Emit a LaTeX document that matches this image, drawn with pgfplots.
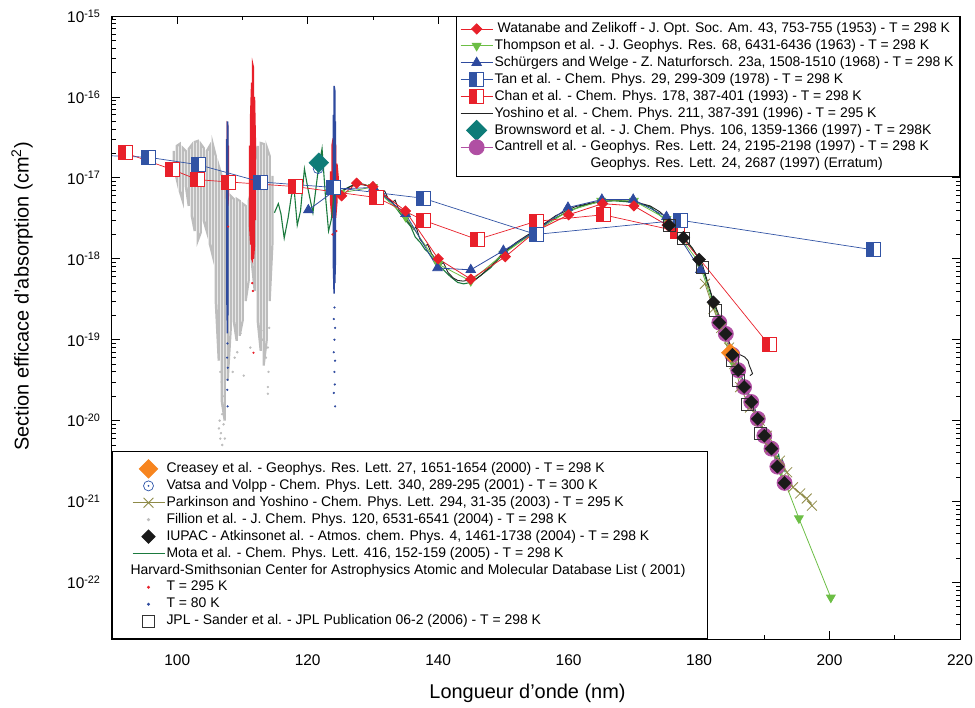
\documentclass[border=0pt]{standalone}
\usepackage{fontspec}
\setmainfont{Liberation Sans}
\usepackage{pgfplots}
\pgfplotsset{compat=1.18}

\definecolor{wzred}{HTML}{E8202A}
\definecolor{thgreen}{HTML}{6CBE45}
\definecolor{swblue}{HTML}{2E4A9E}
\definecolor{tanblue}{HTML}{3153A4}
\definecolor{chanred}{HTML}{E8202A}
\definecolor{yoblack}{HTML}{222222}
\definecolor{brteal}{HTML}{0E7C78}
\definecolor{canmag}{HTML}{B04FA3}
\definecolor{crorange}{HTML}{F7851F}
\definecolor{vablue}{HTML}{2C54A8}
\definecolor{paolive}{HTML}{8E8A47}
\definecolor{figray}{HTML}{BDBDBD}
\definecolor{iublack}{HTML}{1A1A1A}
\definecolor{mogreen}{HTML}{1B7A3E}
\definecolor{hvred}{HTML}{E8202A}
\definecolor{hvblue}{HTML}{2E4A9E}
\definecolor{jplblack}{HTML}{333333}

\pgfdeclareplotmark{halfsqB}{%
  \pgfpathrectangle{\pgfqpoint{-\pgfplotmarksize}{-\pgfplotmarksize}}{\pgfqpoint{2\pgfplotmarksize}{2\pgfplotmarksize}}%
  \pgfsetfillcolor{white}\pgfusepathqfillstroke
  \pgfpathrectangle{\pgfqpoint{-\pgfplotmarksize}{-\pgfplotmarksize}}{\pgfqpoint{\pgfplotmarksize}{2\pgfplotmarksize}}%
  \pgfsetfillcolor{tanblue}\pgfusepathqfillstroke}
\pgfdeclareplotmark{halfsqR}{%
  \pgfpathrectangle{\pgfqpoint{-\pgfplotmarksize}{-\pgfplotmarksize}}{\pgfqpoint{2\pgfplotmarksize}{2\pgfplotmarksize}}%
  \pgfsetfillcolor{white}\pgfusepathqfillstroke
  \pgfpathrectangle{\pgfqpoint{-\pgfplotmarksize}{-\pgfplotmarksize}}{\pgfqpoint{\pgfplotmarksize}{2\pgfplotmarksize}}%
  \pgfsetfillcolor{chanred}\pgfusepathqfillstroke}
\pgfdeclareplotmark{odot}{%
  \pgfpathcircle{\pgfpointorigin}{\pgfplotmarksize}\pgfusepathqstroke
  \pgfpathcircle{\pgfpointorigin}{0.22\pgfplotmarksize}\pgfusepathqfill}

\tikzset{
  wz/.style={color=wzred, line width=0.8bp, mark=square*, mark size=3.6bp, mark options={rotate=45}},
  th/.style={color=thgreen, line width=0.8bp, mark=triangle*, mark size=5bp, mark options={rotate=180}},
  sw/.style={color=swblue, line width=0.8bp, mark=triangle*, mark size=5.5bp},
  tan/.style={color=tanblue, line width=0.7bp, mark=halfsqB, mark size=7bp},
  chan/.style={color=chanred, line width=0.7bp, mark=halfsqR, mark size=7bp},
  yo/.style={color=yoblack, line width=0.9bp},
  br/.style={color=brteal, mark=square*, mark size=7bp, mark options={rotate=45}},
  can/.style={color=canmag, line width=0.8bp, mark=*, mark size=7.5bp},
  cr/.style={color=crorange, mark=square*, mark size=6.4bp, mark options={rotate=45}},
  va/.style={color=vablue, mark=odot, mark size=5bp, mark options={fill=vablue, line width=0.7bp}},
  pa/.style={color=paolive, line width=0.8bp, mark=x, mark size=7bp},
  iu/.style={color=iublack, mark=square*, mark size=4.6bp, mark options={rotate=45}},
  mo/.style={color=mogreen, line width=1.1bp},
  jpl/.style={color=jplblack, mark=square, mark size=6bp, mark options={line width=0.9bp}},
}

\begin{document}
\begin{tikzpicture}
\begin{axis}[
  scale only axis, width=848bp, height=623bp,
  xmin=90, xmax=220, ymode=log, ymin=2e-23, ymax=1e-15,
  legend image code/.code={%
      \begin{pgfinterruptboundingbox}\draw[mark repeat=2,mark phase=2,#1] plot coordinates {(0bp,0bp) (16bp,0bp) (32bp,0bp)};\end{pgfinterruptboundingbox}%
      \path[draw=none, fill=none] (0bp,-4bp) rectangle (32bp,4bp);},
  legend cell align=left,
  xtick={100,120,140,160,180,200,220},
  xticklabels={100,120,140,160,180,200,220},
  minor xtick={90,110,130,150,170,190,210},
  ytick={1e-22,1e-21,1e-20,1e-19,1e-18,1e-17,1e-16,1e-15},
  yticklabels={10\textsuperscript{-22},10\textsuperscript{-21},10\textsuperscript{-20},10\textsuperscript{-19},10\textsuperscript{-18},10\textsuperscript{-17},10\textsuperscript{-16},10\textsuperscript{-15}},
  minor ytick={2e-23,3e-23,4e-23,5e-23,6e-23,7e-23,8e-23,9e-23,2e-22,3e-22,4e-22,5e-22,6e-22,7e-22,8e-22,9e-22,2e-21,3e-21,4e-21,5e-21,6e-21,7e-21,8e-21,9e-21,2e-20,3e-20,4e-20,5e-20,6e-20,7e-20,8e-20,9e-20,2e-19,3e-19,4e-19,5e-19,6e-19,7e-19,8e-19,9e-19,2e-18,3e-18,4e-18,5e-18,6e-18,7e-18,8e-18,9e-18,2e-17,3e-17,4e-17,5e-17,6e-17,7e-17,8e-17,9e-17,2e-16,3e-16,4e-16,5e-16,6e-16,7e-16,8e-16,9e-16},
  tick align=inside,
  major tick length=8bp, minor tick length=4bp,
  every tick/.style={black, line width=0.8bp},
  axis line style={line width=1bp},
  ticklabel style={font=\fontsize{15.5}{18}\selectfont},
  xticklabel style={yshift=-12bp},
  yticklabel style={xshift=-8bp},
  xlabel={Longueur d'onde (nm)},
  ylabel={Section efficace d'absorption (cm\textsuperscript{2})},
  label style={font=\fontsize{20}{22}\selectfont},
  xlabel style={at={(axis description cs:0.49,-0.087)}, anchor=center},
  ylabel style={at={(axis description cs:-0.106,0.55)}, anchor=center},
  legend style={at={(1,1)}, anchor=north east, draw=black, line width=1bp,
    font=\fontsize{14}{16}\selectfont, inner xsep=4bp, inner ysep=4bp, row sep=0bp,
    nodes={inner ysep=1.8bp, inner xsep=2bp, text height=10.3bp, text depth=3bp}},
]
\coordinate (SW) at (rel axis cs:0,0);

\addlegendimage{wz}\addlegendentry{\hspace{3bp}Watanabe and Zelikoff - J. Opt. Soc. Am. 43, 753-755 (1953) - T = 298 K}
\addlegendimage{th}\addlegendentry{Thompson et al. - J. Geophys. Res. 68, 6431-6436 (1963) - T = 298 K}
\addlegendimage{sw}\addlegendentry{Schürgers and Welge - Z. Naturforsch. 23a, 1508-1510 (1968) - T = 298 K}
\addlegendimage{tan}\addlegendentry{Tan et al. - Chem. Phys. 29, 299-309 (1978) - T = 298 K}
\addlegendimage{chan}\addlegendentry{Chan et al. - Chem. Phys. 178, 387-401 (1993) - T = 298 K}
\addlegendimage{yo, no marks}\addlegendentry{Yoshino et al. - Chem. Phys. 211, 387-391 (1996) - T = 295 K}
\addlegendimage{br, only marks}\addlegendentry{Brownsword et al. - J. Chem. Phys. 106, 1359-1366 (1997) - T = 298K}
\addlegendimage{can}\addlegendentry{Cantrell et al. - Geophys. Res. Lett. 24, 2195-2198 (1997) - T = 298 K}
\addlegendimage{empty legend}\addlegendentry{\hphantom{Cantrell et al. - }Geophys. Res. Lett. 24, 2687 (1997) (Erratum)}

\addplot[forget plot, color=figray, line width=2.2bp] coordinates {
(99.46,2.15e-17)(99.46,1.41e-17)(99.92,9.7e-18)(99.92,2.48e-17)(100.38,2.63e-17)(100.38,6.9e-18)
(100.84,5.2e-18)(100.84,2.34e-17)(101.30,2.15e-17)(101.30,7.96e-18)(101.76,4.5e-18)(101.76,2.28e-17)
(102.22,2.55e-17)(102.22,3.4e-18)(102.68,2.2e-18)(102.68,2.78e-17)(103.14,2.86e-17)(103.14,1.67e-18)
(103.60,2.1e-18)(103.60,2.63e-17)(104.06,2.34e-17)(104.06,2.95e-18)(104.52,2.2e-18)(104.52,2.15e-17)
(104.98,2.48e-17)(104.98,1.53e-18)(105.44,1.09e-18)(105.44,2.63e-17)(105.90,1.87e-17)(105.90,3.0e-19)
(106.36,5.5e-20)(106.36,1.41e-17)(106.81,1.06e-17)(106.81,1.77e-20)(107.27,1.0e-20)(107.27,7.96e-18)
(107.73,6.9e-18)(107.73,3.1e-20)(108.19,1.29e-19)(108.19,6.0e-18)(108.65,5.5e-18)(108.65,1.72e-19)
(109.11,9.7e-20)(109.11,5.5e-18)(109.57,5.2e-18)(109.57,1.12e-19)(110.03,1.72e-19)(110.03,4.8e-18)
(110.49,4.5e-18)(110.49,3.0e-19)(110.95,5.3e-19)(110.95,5.2e-18)(111.41,6.9e-18)(111.41,9.4e-19)
(111.87,4.0e-19)(111.87,1.62e-17)(112.33,2.48e-17)(112.33,1.72e-19)(112.79,7.3e-20)(112.79,2.70e-17)
(113.25,2.63e-17)(113.25,4.8e-20)(113.71,9.7e-20)(113.71,2.41e-17)(114.17,1.87e-17)(114.17,3.0e-19)
(114.62,1.67e-18)(114.62,1.06e-17)};
\addplot[forget plot, only marks, color=figray, mark=*, mark size=1bp] coordinates {
(106.4,8e-21)(106.5,1e-20)(106.6,6e-21)(106.7,7e-21)(106.9,1.2e-20)(107.1,9e-21)(107.0,1.5e-20)
(107.2,2e-20)(106.8,3e-20)(106.6,4e-20)(109.7,1.2e-19)(110.2,3.6e-20)(113.9,2.6e-20)(113.9,2.15e-20)
(114.0,4e-20)(113.6,6e-20)(113.9,8e-20)(109.2,7e-20)(108.5,4e-20)(108.8,6e-20)(111.2,8e-20)
(113.1,1e-19)(112.9,1.3e-19)(114.1,1.4e-19)(107.3,6e-21)(106.9,5e-21)};

\addplot[forget plot, color=hvred, line width=1.2bp] coordinates {
(107.55,3e-17)(107.55,6e-18)(107.65,3.9e-18)(107.65,4.7e-17)(107.75,4.5e-17)(107.75,4.5e-18)(107.85,6e-18)(107.85,2.5e-17)};
\addplot[forget plot, color=hvred, line width=1.3bp] coordinates {
(111.1,2.5e-17)(111.1,2.5e-18)(111.25,1.5e-18)(111.25,6e-17)(111.4,1.5e-16)(111.4,1.0e-18)(111.55,9.4e-19)(111.55,2.6e-16)
(111.7,2.3e-16)(111.7,1.0e-18)(111.85,1.5e-18)(111.85,1.0e-16)(112.0,2.5e-17)(112.0,3e-18)};
\addplot[forget plot, color=hvred, line width=1.1bp] coordinates {
(123.5,1.2e-17)(123.5,5e-18)(123.7,3.2e-18)(123.7,2.5e-17)(123.9,3.1e-17)(123.9,3.5e-18)(124.1,4e-18)(124.1,3e-17)
(124.3,2.5e-17)(124.3,3.2e-18)(124.5,5e-18)(124.5,1.5e-17)(124.7,1e-17)(124.7,6e-18)};
\addplot[forget plot, only marks, color=hvred, mark=*, mark size=0.9bp] coordinates {
(111.7,6.9e-20)(111.6,4e-19)(111.5,5e-19)(107.8,2.5e-18)(124.4,2.2e-18)(123.8,2e-18)};

\addplot[forget plot, color=hvblue, line width=1.5bp] coordinates {
(107.62,3e-17)(107.62,3e-19)(107.7,1.2e-19)(107.7,5e-17)(107.78,4e-17)(107.78,2e-19)};
\addplot[forget plot, color=hvblue, line width=1.5bp] coordinates {
(123.95,6e-17)(123.95,8e-19)(124.05,3.7e-19)(124.05,1.37e-16)(124.15,1.2e-16)(124.15,5e-19)(124.25,1e-18)(124.25,5e-17)};
\addplot[forget plot, only marks, color=hvblue, mark=*, mark size=0.9bp] coordinates {
(124.1,2.5e-19)(124.0,1.8e-19)(124.2,1.4e-19)(124.1,1.0e-19)(124.0,7e-20)(124.2,5.5e-20)(124.1,4e-20)
(124.15,2.8e-20)(124.0,2.2e-20)(124.2,1.5e-20)
(107.7,9e-20)(107.65,6e-20)(107.75,4.5e-20)(107.7,3.2e-20)(107.68,2.4e-20)(107.72,1.5e-20)};

\addplot[forget plot, mo, no marks] coordinates {
(114.9,3.7e-18)(115.5,4.8e-18)(115.9,3.6e-18)(116.4,1.8e-18)(117.0,3.2e-18)(117.5,6.0e-18)(117.9,7.6e-18)
(118.4,2.6e-18)(118.9,3.9e-18)(119.5,1.29e-17)(120.0,7.6e-18)(120.8,3.7e-18)(121.6,1.23e-17)(122.2,2.3e-17)
(122.7,6.3e-18)(123.2,2.2e-18)(123.6,3.0e-18)(124.1,6.5e-18)(125.2,6.9e-18)(126.2,7.6e-18)(127.0,8.2e-18)
(128.2,8.5e-18)(129.2,8.0e-18)(130.0,7.7e-18)(131.0,6.9e-18)(131.9,6.0e-18)(132.5,5.2e-18)(133.0,5.0e-18)
(133.5,4.3e-18)(134.2,3.6e-18)(135.0,3.0e-18)(135.8,2.5e-18)(136.5,1.85e-18)(137.3,1.58e-18)(138.0,1.3e-18)
(138.4,1.22e-18)(139.2,1.0e-18)(139.9,8.7e-19)(140.8,7.3e-19)(141.9,6.0e-19)(143.0,5.1e-19)(143.9,4.9e-19)
(145.0,5.1e-19)(146.5,6.2e-19)(148.0,7.7e-19)(150.0,1.15e-18)(152.0,1.55e-18)(154.6,2.1e-18)(157.0,2.9e-18)
(159.8,3.8e-18)(162.0,4.5e-18)(164.9,5.1e-18)(167.0,5.2e-18)(169.9,5.0e-18)(172.5,4.4e-18)(175.1,2.9e-18)
(177.0,2.0e-18)(178.5,1.5e-18)(180.0,1.0e-18)(181.0,5.8e-19)(182.0,3.3e-19)(183.0,1.9e-19)(184.0,1.25e-19)
(185.0,7.0e-20)(186.0,4.4e-20)(187.0,2.8e-20)(188.0,1.8e-20)(189.0,1.12e-20)(190.0,7.0e-21)(191.0,4.8e-21)
(191.8,3.3e-21)(192.2,3.8e-21)(192.5,2.7e-21)(192.8,3.2e-21)(193.2,2.3e-21)};

\addplot[forget plot, yo, no marks] coordinates {
(125.5,7.0e-18)(126.5,7.8e-18)(127.5,8.3e-18)(128.5,8.2e-18)(129.5,7.9e-18)(130.5,7.3e-18)(131.3,6.6e-18)
(131.8,6.9e-18)(132.3,5.6e-18)(133.0,5.0e-18)(133.4,5.3e-18)(134.0,4.0e-18)(135.0,3.2e-18)(135.8,2.6e-18)
(136.3,2.3e-18)(136.6,2.5e-18)(137.2,1.75e-18)(138.0,1.45e-18)(138.4,1.5e-18)(139.0,1.15e-18)(139.8,9.5e-19)
(140.4,8.5e-19)(140.8,9.0e-19)(141.5,6.8e-19)(142.3,5.8e-19)(143.0,5.4e-19)(143.8,5.3e-19)(144.5,5.4e-19)
(145.3,5.2e-19)(146.5,6.2e-19)(148,8.0e-19)(150,1.2e-18)(152,1.6e-18)(155,2.3e-18)(158,3.4e-18)(161,4.4e-18)
(164,5.0e-18)(167,5.3e-18)(170,5.1e-18)(172.5,4.5e-18)(174,3.8e-18)(175.5,2.9e-18)(177,2.1e-18)(179,1.35e-18)
(180.5,8.5e-19)(182,3.4e-19)(183.5,1.6e-19)(184.5,1.0e-19)(185.2,6.6e-20)(186.3,6.5e-20)(187.0,6.1e-20)
(187.5,5.5e-20)(187.7,4.8e-20)(188.0,4.2e-20)(188.2,3.8e-20)(187.8,3.6e-20)};

\addplot[forget plot, th] coordinates {
(125,6.5e-18)(130,7.7e-18)(135,3.3e-18)(140,8.6e-19)(145,5.3e-19)(150,1.15e-18)(155,2.2e-18)(160,3.9e-18)
(165,5.2e-18)(170,5.2e-18)(175,3.1e-18)(180,9.0e-19)(185,5.5e-20)(190,7.0e-21)(192.5,2.4e-21)(195.3,6.2e-22)(200.2,6.5e-23)};

\addplot[forget plot, sw] coordinates {
(120.1,4.0e-18)(124.5,7.3e-18)(130.1,7.6e-18)(135.0,3.6e-18)(139.9,7.7e-19)(145.0,7.3e-19)(150.0,1.26e-18)
(155.0,2.2e-18)(159.9,4.3e-18)(165.1,5.4e-18)(169.9,5.4e-18)(175.0,3.3e-18)(180.2,7.3e-19)};

\addplot[forget plot, wz] coordinates {
(125.2,6.0e-18)(127.5,8.6e-18)(130.0,7.8e-18)(135.0,3.9e-18)(140.0,1.0e-18)(145.0,5.6e-19)(150.3,1.06e-18)
(155.0,2.2e-18)(160.0,3.5e-18)(165.2,4.8e-18)(170.0,4.5e-18)(175.1,2.6e-18)};

\addplot[forget plot, chan] coordinates {
(92.0,2.04e-17)(99.3,1.26e-17)(103.1,9.5e-18)(107.9,8.9e-18)(118.1,7.8e-18)(130.6,5.7e-18)(137.7,3.0e-18)
(146.0,1.73e-18)(155.0,2.9e-18)(165.3,3.5e-18)(176.6,2.2e-18)(190.7,8.7e-20)};

\addplot[forget plot, tan] coordinates {
(88,1.9e-17)(95.5,1.8e-17)(103.3,1.45e-17)(112.8,8.9e-18)(124.0,7.6e-18)(137.7,5.6e-18)(155.0,2.0e-18)
(177.1,3.0e-18)(206.7,1.29e-18)};

\addplot[forget plot, va, only marks] coordinates {(121.6,1.3e-17)};
\addplot[forget plot, br, only marks] coordinates {(121.7,1.54e-17)};

\addplot[forget plot, can] coordinates {
(183.1,1.63e-19)(184.1,1.18e-19)(185.1,6.5e-20)(186.0,4.2e-20)(186.9,2.6e-20)(188.0,1.7e-20)(189.0,1.05e-20)
(190.0,6.5e-21)(191.1,4.5e-21)(192.0,2.7e-21)(193.1,1.7e-21)};

\addplot[forget plot, pa] coordinates {
(180.9,4.9e-19)(182.2,2.4e-19)(183.4,1.4e-19)(184.6,8e-20)(185.4,5e-20)(186.3,2.6e-20)(187.8,1.45e-20)
(189.3,1.0e-20)(190.4,6.5e-21)(190.9,4.6e-21)(192.4,3.2e-21)(193.5,2.3e-21)(194.4,1.5e-21)(195.5,1.26e-21)
(196.5,1.09e-21)(197.3,8.9e-22)};

\addplot[forget plot, jpl, only marks] coordinates {
(175.4,2.6e-18)(177.6,1.8e-18)(180.5,7.8e-19)(182.5,2.3e-19)(185.1,5.5e-20)(186.0,3.1e-20)(187.4,1.6e-20)(189.4,6.9e-21)};

\addplot[forget plot, cr, only marks] coordinates {(184.8,6.9e-20)};

\addplot[forget plot, iu, only marks] coordinates {
(175.4,2.6e-18)(177.6,1.82e-18)(180.0,9.8e-19)(182.2,2.9e-19)(183.1,1.63e-19)(184.1,1.18e-19)(185.1,6.5e-20)
(186.0,4.2e-20)(186.9,2.6e-20)(188.0,1.7e-20)(189.0,1.05e-20)(190.0,6.5e-21)(191.1,4.5e-21)(192.0,2.7e-21)(193.1,1.7e-21)};
\end{axis}

\begin{axis}[
  scale only axis, width=848bp, height=623bp,
  xmin=90, xmax=220, ymode=log, ymin=2e-23, ymax=1e-15,
  hide axis,
  legend image code/.code={%
      \begin{pgfinterruptboundingbox}\draw[mark repeat=2,mark phase=2,#1] plot coordinates {(0bp,0bp) (16bp,0bp) (32bp,0bp)};\end{pgfinterruptboundingbox}%
      \path[draw=none, fill=none] (0bp,-4bp) rectangle (32bp,4bp);},
  legend cell align=left,
  legend style={at={(0,0)}, anchor=south west, draw=black, line width=1bp, fill=white,
    font=\fontsize{14}{16}\selectfont, inner xsep=20bp, inner ysep=9bp, row sep=0bp,
    nodes={inner ysep=1.8bp, inner xsep=2bp, text height=10.3bp, text depth=3bp}},
]
\addlegendimage{cr, only marks}\addlegendentry{Creasey et al. - Geophys. Res. Lett. 27, 1651-1654 (2000) - T = 298 K}
\addlegendimage{va, only marks}\addlegendentry{Vatsa and Volpp - Chem. Phys. Lett. 340, 289-295 (2001) - T = 300 K}
\addlegendimage{pa}\addlegendentry{Parkinson and Yoshino - Chem. Phys. Lett. 294, 31-35 (2003) - T = 295 K}
\addlegendimage{only marks, mark=*, mark size=1.1bp, color=figray}\addlegendentry{Fillion et al. - J. Chem. Phys. 120, 6531-6541 (2004) - T = 298 K}
\addlegendimage{iu, only marks}\addlegendentry{IUPAC - Atkinsonet al. - Atmos. chem. Phys. 4, 1461-1738 (2004) - T = 298 K}
\addlegendimage{mo, no marks}\addlegendentry{Mota et al. - Chem. Phys. Lett. 416, 152-159 (2005) - T = 298 K}
\addlegendimage{empty legend}\addlegendentry{\hspace*{-36bp}Harvard-Smithsonian Center for Astrophysics Atomic and Molecular Database List ( 2001)}
\addlegendimage{only marks, mark=*, mark size=0.9bp, color=hvred}\addlegendentry{T = 295 K}
\addlegendimage{only marks, mark=*, mark size=0.9bp, color=hvblue}\addlegendentry{T = 80 K}
\addlegendimage{jpl, only marks}\addlegendentry{JPL - Sander et al. - JPL Publication 06-2 (2006) - T = 298 K}
\addplot[forget plot, draw=none] coordinates {(100,1e-18)};
\end{axis}

\pgfresetboundingbox
\path ([shift={(-112bp,-69bp)}]SW) rectangle ++(975bp,708bp);
\end{tikzpicture}
\end{document}
